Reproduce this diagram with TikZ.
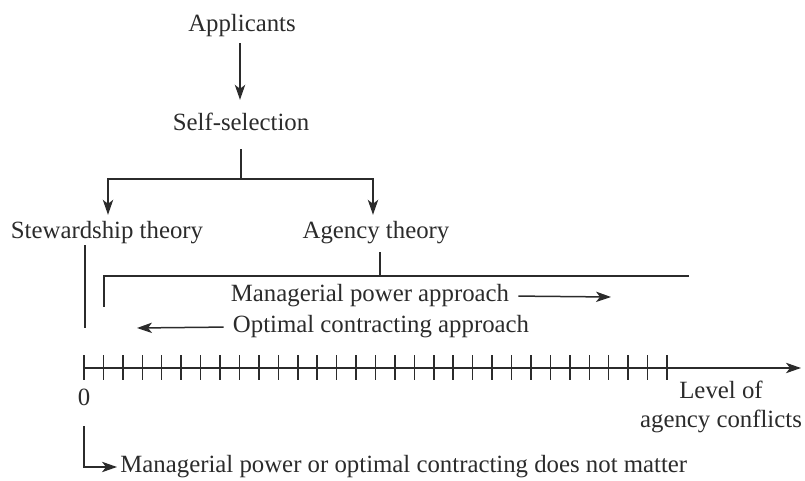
\documentclass[tikz,border=0pt]{standalone}
\usepackage{fontspec}
\setmainfont{Liberation Serif}
\usetikzlibrary{arrows.meta,calc}
\definecolor{ink}{HTML}{2B2B2B}
\begin{document}
\begin{tikzpicture}[x=0.5pt,y=-0.5pt,
  lbl/.style={inner sep=0pt, text=ink, font=\fontsize{12.4}{14}\selectfont,
              text height=8.9pt, text depth=2.9pt},
  line/.style={draw=ink, line width=0.75pt},
  arr/.style={line, -{Stealth[length=7.5pt,width=5.2pt,inset=2pt]}}]
\useasboundingbox (0,0) rectangle (805,481);

% labels
\node[lbl] (app)    at (242,26)  {Applicants};
\node[lbl] (self)   at (241,125) {Self-selection};
\node[lbl] (stew)   at (107,233) {Stewardship theory};
\node[lbl] (agency) at (376,233) {Agency theory};
\node[lbl] (mp)     at (370,296) {Managerial power approach};
\node[lbl] (oc)     at (381,327) {Optimal contracting approach};
\node[lbl] (zero)   at (84,400)  {0};
\node[lbl] (lvlA)   at (721,393) {Level of};
\node[lbl] (lvlB)   at (721,422) {agency conflicts};
\node[lbl, anchor=west] (nm) at (120,467) {Managerial power or optimal contracting does not matter};

% helper points
\coordinate (split) at (241,179);
\coordinate (stewEnd) at (85,328);
\coordinate (brL) at (104,276);
\coordinate (brR) at (689,276);
\coordinate (mpEnd) at (611,297);
\coordinate (ocEnd) at (137,328);
\coordinate (o) at (84,368);
\coordinate (axEnd) at (801,368);

% selection tree
\draw[arr, shorten <=2.5pt, shorten >=6.5pt] ([xshift=-1pt]app.south) -- ([xshift=-1pt]app.south |- self.north);
\draw[line, shorten <=6pt] (self.south) -- (split);
\draw[arr, shorten >=3pt] (split) -| ([xshift=0.5pt]stew.north);
\draw[arr, shorten >=3pt] (split) -| ([xshift=-1.5pt]agency.north);

% stewardship line and agency bracket
\draw[line] ([xshift=-11pt]stew.south) -- (stewEnd);
\draw[line, shorten <=3.5pt] ([xshift=2pt]agency.south) -- ([xshift=2pt]agency.south |- brL);
\draw[line] (brR) -- (brL) -- ++(0,31);

% approach arrows
\draw[arr, shorten <=4.5pt] (mp.east) -- (mpEnd);
\draw[arr, shorten <=4.5pt] (oc.west) -- (ocEnd);

% axis with ticks
\draw[arr] (o) -- (axEnd);
\foreach \i in {0,...,30}
  \draw[line] ($(o)+(\i*19.433,-12.5)$) -- ++(0,25);

% zero note
\draw[arr, shorten <=7pt, shorten >=1.5pt] (zero.south) -- (zero.south |- nm.west) -- (nm.west);
\end{tikzpicture}
\end{document}
